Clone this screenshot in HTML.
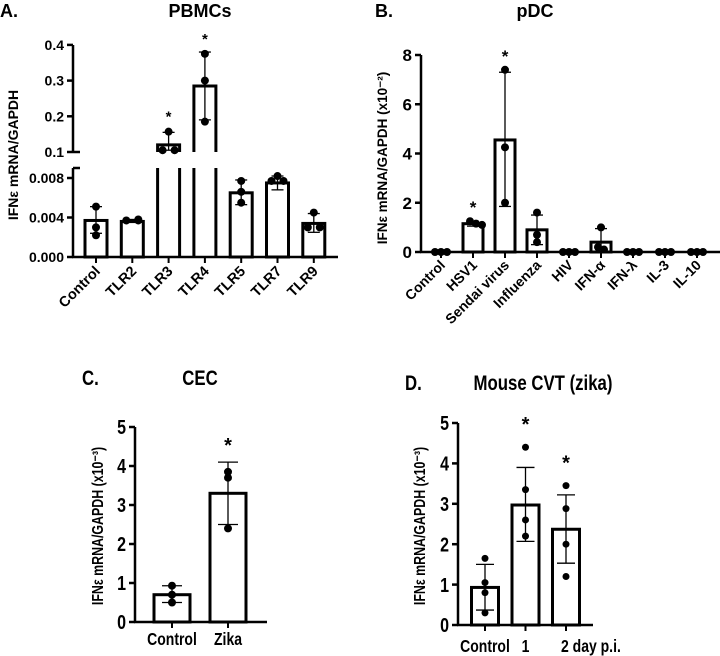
<!DOCTYPE html>
<html><head><meta charset="utf-8"><style>
html,body{margin:0;padding:0;background:#fff;}
svg{display:block;font-family:"Liberation Sans",Arial,sans-serif;font-weight:bold;}
</style></head><body>
<svg id="fig" width="720" height="656" viewBox="0 0 720 656"></svg>
<script>
// Panel A data
const aCats=["Control","TLR2","TLR3","TLR4","TLR5","TLR7","TLR9"];
const aMeans=[0.0037,0.0036,0.12,0.285,0.0065,0.0075,0.0034];
const aErrHi=[0.0051,0.0038,0.155,0.38,0.0078,0.0082,0.0044];
const aErrLo=[0.0024,0.0035,0.105,0.19,0.0053,0.0068,0.0025];
const aPts=[[0.0051,0.0030,0.0022],[0.0037,0.0038,0.0037],[0.157,0.105,0.105],[0.375,0.30,0.185],[0.0077,0.0066,0.0055],[0.0082,0.0077,0.0077],[0.0045,0.0030,0.0030]];
const aSig=[0,0,1,1,0,0,0];
const aLowTicks=[0,0.004,0.008];const aLowLabels=["0.000","0.004","0.008"];
const aHighTicks=[0.1,0.2,0.3,0.4];const aHighLabels=["0.1","0.2","0.3","0.4"];
// Panel B data
const bCats=["Control","HSV1","Sendai virus","Influenza","HIV","IFN-α","IFN-λ","IL-3","IL-10"];
const bMeans=[0,1.15,4.55,0.9,0,0.4,0,0,0];
const bErrHi=[0,1.25,7.3,1.5,0,0.95,0,0,0];
const bErrLo=[0,1.05,1.85,0.3,0,0.1,0,0,0];
const bPts=[[0,0,0],[1.25,1.15,1.1],[7.4,4.25,2.0],[1.6,0.7,0.4],[0,0,0],[1.0,0.2,0.1],[0,0,0],[0,0,0],[0,0,0]];
const bSig=[0,1,1,0,0,0,0,0,0];
const bTicks=[0,2,4,6,8];
// Panel C data
const cCats=["Control","Zika"];
const cMeans=[0.7,3.3];
const cErrHi=[0.93,4.1];
const cErrLo=[0.5,2.5];
const cPts=[[0.93,0.7,0.5],[3.85,3.7,2.4]];
const cSig=[0,1];
const cdTicks=[0,1,2,3,4,5];
// Panel D data
const dCats=["Control","1","2"];
const dMeans=[0.93,2.97,2.37];
const dErrHi=[1.5,3.9,3.22];
const dErrLo=[0.37,2.07,1.53];
const dPts=[[1.65,1.05,0.8,0.3],[4.4,3.35,2.6,2.2],[3.45,2.88,2.0,1.2]];
const dSig=[0,1,1];

const NS="http://www.w3.org/2000/svg";
const svg=document.getElementById('fig');
function mk(tag,attrs,parent,text){const e=document.createElementNS(NS,tag);for(const k in attrs)e.setAttribute(k,attrs[k]);if(text!==undefined)e.textContent=text;(parent||svg).appendChild(e);return e;}
function grp(name){const g=mk('g',{});


return g;}
// cls 'n' => condensed rendering (scaleX)
function txt(p,x,y,s,size,anchor,cls,rot){
 let t;
 if(cls==='n'){
  const tr=rot?`translate(${x} ${y}) ${rot} scale(0.8 1)`:`translate(${x} ${y}) scale(0.8 1)`;
  t=mk('text',{x:0,y:0,'font-size':size,'text-anchor':anchor||'middle',fill:'#000',transform:tr},p,s);
 } else {
  t=mk('text',{x:x,y:y,'font-size':size,'text-anchor':anchor||'middle',fill:'#000'},p,s);
  if(rot)t.setAttribute('transform',rot);
 }
 return t;}
function line(p,x1,y1,x2,y2,w){return mk('line',{x1:x1,y1:y1,x2:x2,y2:y2,stroke:'#000','stroke-width':w||1.5},p);}

function barPlot(cfg){
 const g=grp(cfg.name);
 const y=v=>cfg.y0-(v-cfg.vmin)*(cfg.y0-cfg.y1)/(cfg.vmax-cfg.vmin);
 const xc=i=>cfg.x0+i*cfg.step;
 line(g,cfg.ax,y(cfg.vmax),cfg.ax,cfg.y0,2.5);
 line(g,cfg.ax-1,cfg.y0,cfg.xend,cfg.y0,2.5);
 cfg.ticks.forEach(t=>{line(g,cfg.ax-6,y(t),cfg.ax,y(t),2.5);const tl=txt(g,cfg.ax-9,y(t)+cfg.fs*0.36,String(t),cfg.fs,'end',cfg.cls);
 
 });
 cfg.cats.forEach((c,i)=>{
  const cx=xc(i);
  const b=mk('rect',{x:cx-cfg.bw/2,y:y(cfg.means[i]),width:cfg.bw,height:Math.max(0,cfg.y0-y(cfg.means[i])),fill:'#fff',stroke:'#000','stroke-width':3},g);
  
  
  line(g,cx,cfg.y0,cx,cfg.y0+6,2);
  if(cfg.errHi[i]>cfg.errLo[i]){line(g,cx,y(cfg.errHi[i]),cx,y(cfg.errLo[i]),1.3);
   line(g,cx-cfg.cap,y(cfg.errHi[i]),cx+cfg.cap,y(cfg.errHi[i]),1.3);line(g,cx-cfg.cap,y(cfg.errLo[i]),cx+cfg.cap,y(cfg.errLo[i]),1.3);}
  const pts=cfg.pts[i];
  pts.forEach((p,j)=>{let dx=0;if(cfg.spreadZero&&cfg.means[i]===0)dx=(j-1)*6;
   else if(pts.filter(q=>Math.abs(q-p)<(cfg.vmax-cfg.vmin)*0.02).length>1){const same=pts.filter((q,k)=>k<j&&Math.abs(q-p)<(cfg.vmax-cfg.vmin)*0.02).length;dx=same*6-3;}
   mk('circle',{cx:cx+dx,cy:y(p),r:cfg.r,fill:'#000'},g);});
  if(cfg.sig[i]){const s=txt(g,cx,y(Math.max(...pts,cfg.errHi[i]))-cfg.sigOff,'*',cfg.fs,'middle');
   
   }
 });
 return {g,y,xc};
}

// ---- Panel A (broken axis) ----
(function(){
 const g=grp('panel-a-pbmcs');
 txt(g,0,17,'A.',18,'start');txt(g,200,17,'PBMCs',18,'middle');
 const ax=73,yl=v=>257-v*9875,yh=v=>152-(v-0.1)*357;
 line(g,ax,168,ax,257,2.5);line(g,ax,45,ax,152,2.5);
 line(g,ax-1,257,338,257,2.5);
 line(g,ax,152,ax+7,152,2.5);line(g,ax,168,ax+7,168,2.5);
 aLowTicks.forEach((t,k)=>{line(g,ax-6,yl(t),ax,yl(t),2.5);txt(g,ax-9,yl(t)+5,aLowLabels[k],14,'end');});
 aHighTicks.forEach((t,k)=>{line(g,ax-6,yh(t),ax,yh(t),2.5);txt(g,ax-9,yh(t)+5,aHighLabels[k],14,'end');});
 txt(g,18,155,'IFNε mRNA/GAPDH',14,'middle',null,'rotate(-90 18 155)');
 const xc=i=>96+i*36.3,bw=22;
 aCats.forEach((c,i)=>{const cx=xc(i),m=aMeans[i];
  const big=m>0.01, yv=v=>v>0.01?yh(v):yl(v);
  if(big){line(g,cx-bw/2,257,cx-bw/2,168,3);line(g,cx+bw/2,257,cx+bw/2,168,3);
   const b=mk('path',{d:`M${cx-bw/2},152 V${yh(m)} H${cx+bw/2} V152`,fill:'#fff',stroke:'#000','stroke-width':3},g);
   
   }
  else{const b=mk('rect',{x:cx-bw/2,y:yl(m),width:bw,height:257-yl(m),fill:'#fff',stroke:'#000','stroke-width':3},g);
   
   }
  line(g,cx,257,cx,263,2);
  line(g,cx,yv(aErrHi[i]),cx,yv(aErrLo[i]),1.3);
  line(g,cx-6,yv(aErrHi[i]),cx+6,yv(aErrHi[i]),1.3);line(g,cx-6,yv(aErrLo[i]),cx+6,yv(aErrLo[i]),1.3);
  aPts[i].forEach((p,j)=>{const tol=big?0.01:0.0003;const dup=aPts[i].filter((q,k)=>k<j&&Math.abs(q-p)<tol).length;
   mk('circle',{cx:cx+(dup?6:(aPts[i].filter(q=>Math.abs(q-p)<tol).length>1?-6:0)),cy:yv(p),r:4,fill:'#000'},g);});
  if(aSig[i])txt(g,cx,yv(Math.max(...aPts[i]))-10,'*',15,'middle');
  const lx=cx+5,ly=272;txt(g,lx,ly,c,14.5,'end',null,`rotate(-45 ${lx} ${ly})`);
 });
})();

// ---- Panel B ----
(function(){
 const r=barPlot({name:'panel-b-pdc',cats:bCats,means:bMeans,errHi:bErrHi,errLo:bErrLo,pts:bPts,sig:bSig,ticks:bTicks,
  vmin:0,vmax:8,y0:252,y1:55,ax:421,x0:441,step:32,xend:720,bw:20,cap:6,r:4,fs:17,sigOff:8,spreadZero:true});
 const g=r.g;
 txt(g,375,17,'B.',18,'start');txt(g,535,17,'pDC',18,'middle');
 txt(g,387,158,'IFNε mRNA/GAPDH (x10⁻²)',13.5,'middle',null,'rotate(-90 387 158)');
 bCats.forEach((c,i)=>{const lx=r.xc(i)+5,ly=266;txt(g,lx,ly,c,14,'end',null,`rotate(-45 ${lx} ${ly})`);});
})();

// ---- Panel C ----
(function(){
 const r=barPlot({name:'panel-c-cec',cats:cCats,means:cMeans,errHi:cErrHi,errLo:cErrLo,pts:cPts,sig:cSig,ticks:cdTicks,
  vmin:0,vmax:5,y0:622,y1:427,ax:135,x0:172,step:56,xend:267,bw:36,cap:10,r:4,fs:20,sigOff:10,cls:'n'});
 const g=r.g;
 txt(g,82,385,'C.',21,'start','n');txt(g,200,385,'CEC',21,'middle','n');
 txt(g,103,526,'IFNε mRNA/GAPDH (x10⁻³)',15.5,'middle','n','rotate(-90)');
 cCats.forEach((c,i)=>txt(g,r.xc(i),645,c,17.5,'middle','n'));
})();

// ---- Panel D ----
(function(){
 const r=barPlot({name:'panel-d-mouse-cvt',cats:dCats,means:dMeans,errHi:dErrHi,errLo:dErrLo,pts:dPts,sig:dSig,ticks:cdTicks,
  vmin:0,vmax:5,y0:625,y1:423,ax:458,x0:485,step:40.5,xend:593,bw:27,cap:9,r:3.5,fs:20,sigOff:16,cls:'n'});
 const g=r.g;
 txt(g,405,390,'D.',21,'start','n');txt(g,543,390,'Mouse CVT (zika)',21,'middle','n');
 txt(g,425,526,'IFNε mRNA/GAPDH (x10⁻³)',15.5,'middle','n','rotate(-90)');
 txt(g,r.xc(0),652,'Control',17.5,'middle','n');
 txt(g,r.xc(1),652,'1',17.5,'middle','n');
 txt(g,r.xc(2)-5,652,'2  day p.i.',17.5,'start','n');
})();
</script>
</body></html>
